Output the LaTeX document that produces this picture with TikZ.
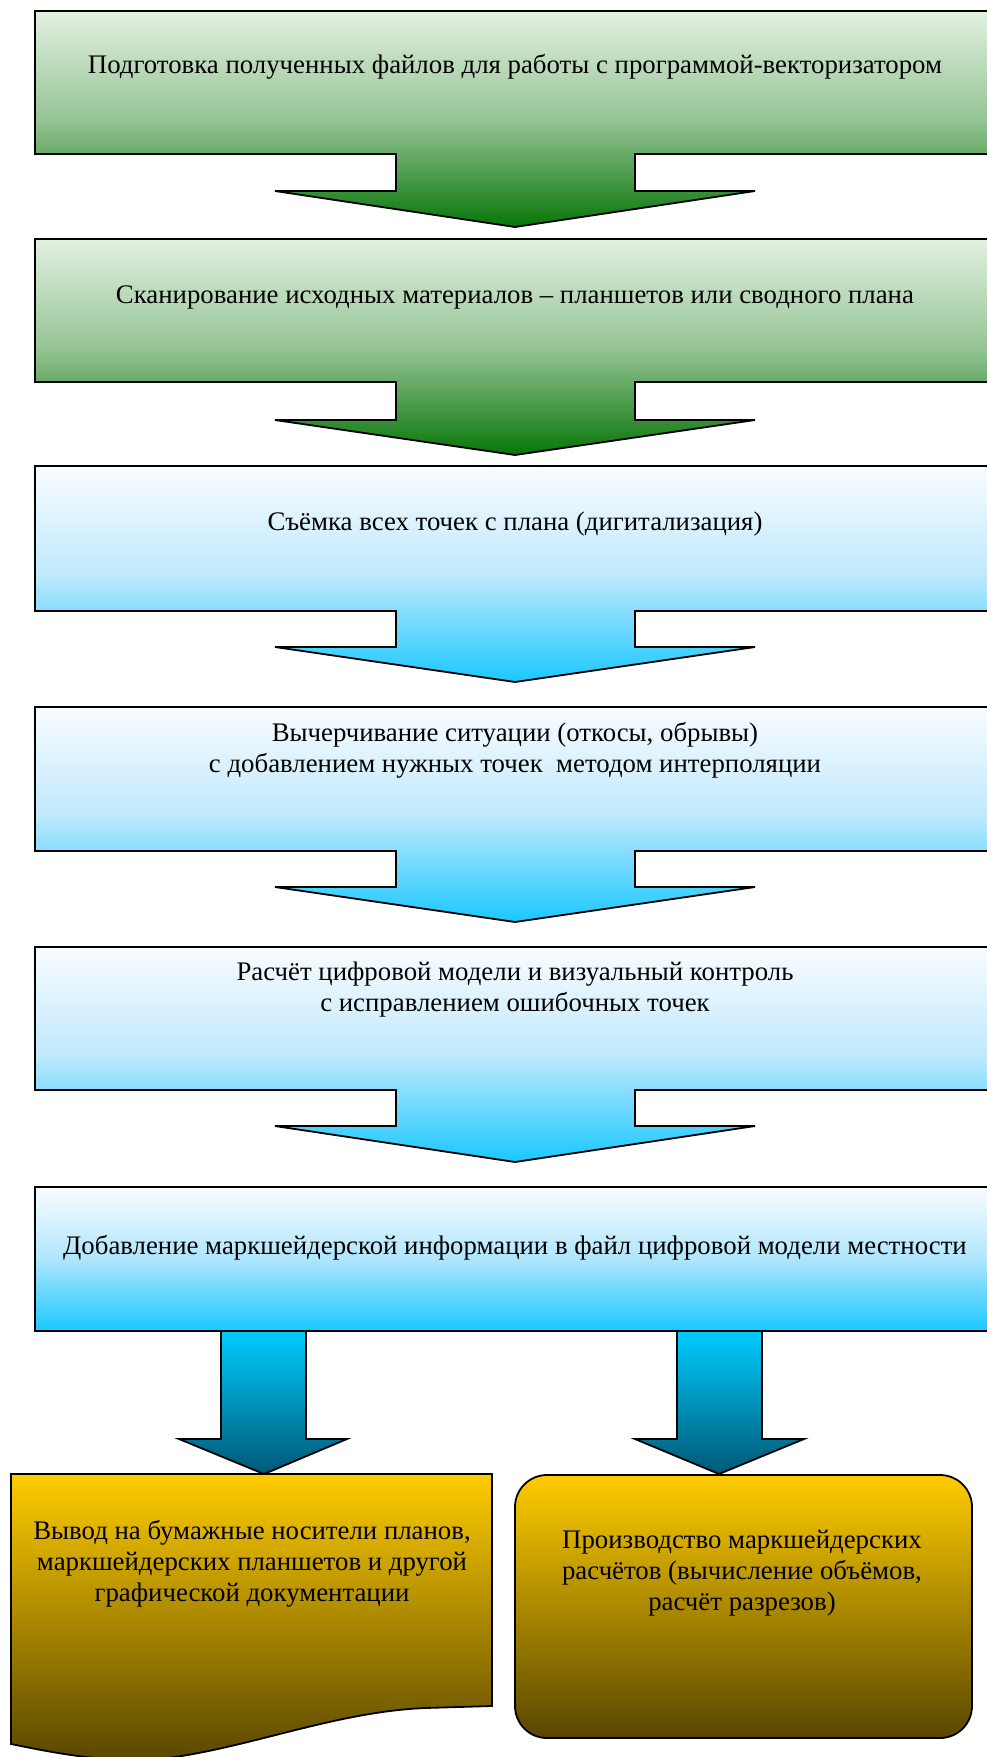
\documentclass[tikz,border=0pt]{standalone}
\usepackage{fontspec}
\setmainfont{Liberation Serif}

\definecolor{greenTop}{RGB}{226,240,224}
\definecolor{greenMid}{RGB}{150,196,150}
\definecolor{greenTip}{RGB}{8,118,8}
\definecolor{blueTop}{RGB}{250,252,255}
\definecolor{blueMid}{RGB}{192,233,252}
\definecolor{blueTip}{RGB}{25,200,255}
\definecolor{tealTop}{RGB}{0,204,255}
\definecolor{tealTip}{RGB}{0,88,118}
\definecolor{goldTop}{RGB}{255,204,0}
\definecolor{goldBot}{RGB}{88,70,0}

\begin{document}
\begin{tikzpicture}[x=0.5pt,y=-0.5pt,line join=miter,
    every node/.style={font=\fontsize{13.4}{15.5}\selectfont,align=center},
    greenbox/.style={draw=black,line width=0.9pt,top color=greenTop,bottom color=greenTip,middle color=greenMid},
    bluebox/.style={draw=black,line width=0.9pt,top color=blueTop,bottom color=blueTip,middle color=blueMid},
    lastbox/.style={draw=black,line width=0.9pt,top color=blueTop,bottom color=blueTip,middle color=blueMid!90!blueTip},
    tealarrow/.style={draw=black,line width=0.9pt,top color=tealTop,bottom color=tealTip},
    goldbox/.style={draw=black,line width=0.9pt,top color=goldTop,bottom color=goldBot}]
   \useasboundingbox (0,0) rectangle (986,1757);
   \foreach \t/\b/\h/\p/\s in {11/154/191/227/greenbox,239/382/420/455/greenbox,
       466/611/647/682/bluebox,707/851/887/922/bluebox,947/1090/1126/1162/bluebox}
     \draw[\s] (35,\t) -- (995,\t) -- (995,\b) -- (635,\b) -- (635,\h) -- (755,\h)
        -- (515,\p) -- (275,\h) -- (396,\h) -- (396,\b) -- (35,\b) -- cycle;
   \draw[lastbox] (35,1187) rectangle (995,1331);
   \draw[tealarrow] (221,1331) -- (306,1331) -- (306,1439) -- (347,1439) -- (264,1474)
        -- (179,1439) -- (221,1439) -- cycle;
   \draw[tealarrow] (677,1331) -- (762,1331) -- (762,1439) -- (804,1439) -- (719,1474)
        -- (635,1439) -- (677,1439) -- cycle;
   \draw[goldbox] (11,1474) -- (492,1474) -- (492,1706) -- (425,1708)
        .. controls (330,1712) and (240,1752) .. (150,1760)
        .. controls (100,1762) and (50,1752) .. (11,1744) -- cycle;
   \draw[goldbox,rounded corners=16pt] (515,1475) rectangle (972,1738);

   \node (prep)   at (515,67)   {Подготовка полученных файлов для работы с программой-векторизатором};
   \node (scan)   at (515,297)  {Сканирование исходных материалов – планшетов или сводного плана};
   \node (digit)  at (515,524)  {Съёмка всех точек с плана (дигитализация)};
   \node (sit)    at (515,750)  {Вычерчивание ситуации (откосы, обрывы)\\с добавлением нужных точек\ \ методом интерполяции};
   \node (model)  at (515,990)  {Расчёт цифровой модели и визуальный контроль\\с исправлением ошибочных точек};
   \node (info)   at (515,1248) {Добавление маркшейдерской информации в файл цифровой модели местности};
   \node (print)  at (252,1564) {Вывод на бумажные носители планов,\\маркшейдерских планшетов и другой\\графической документации};
   \node (calc)   at (742,1573) {Производство маркшейдерских\\расчётов (вычисление объёмов,\\расчёт разрезов)};
\end{tikzpicture}
\end{document}
